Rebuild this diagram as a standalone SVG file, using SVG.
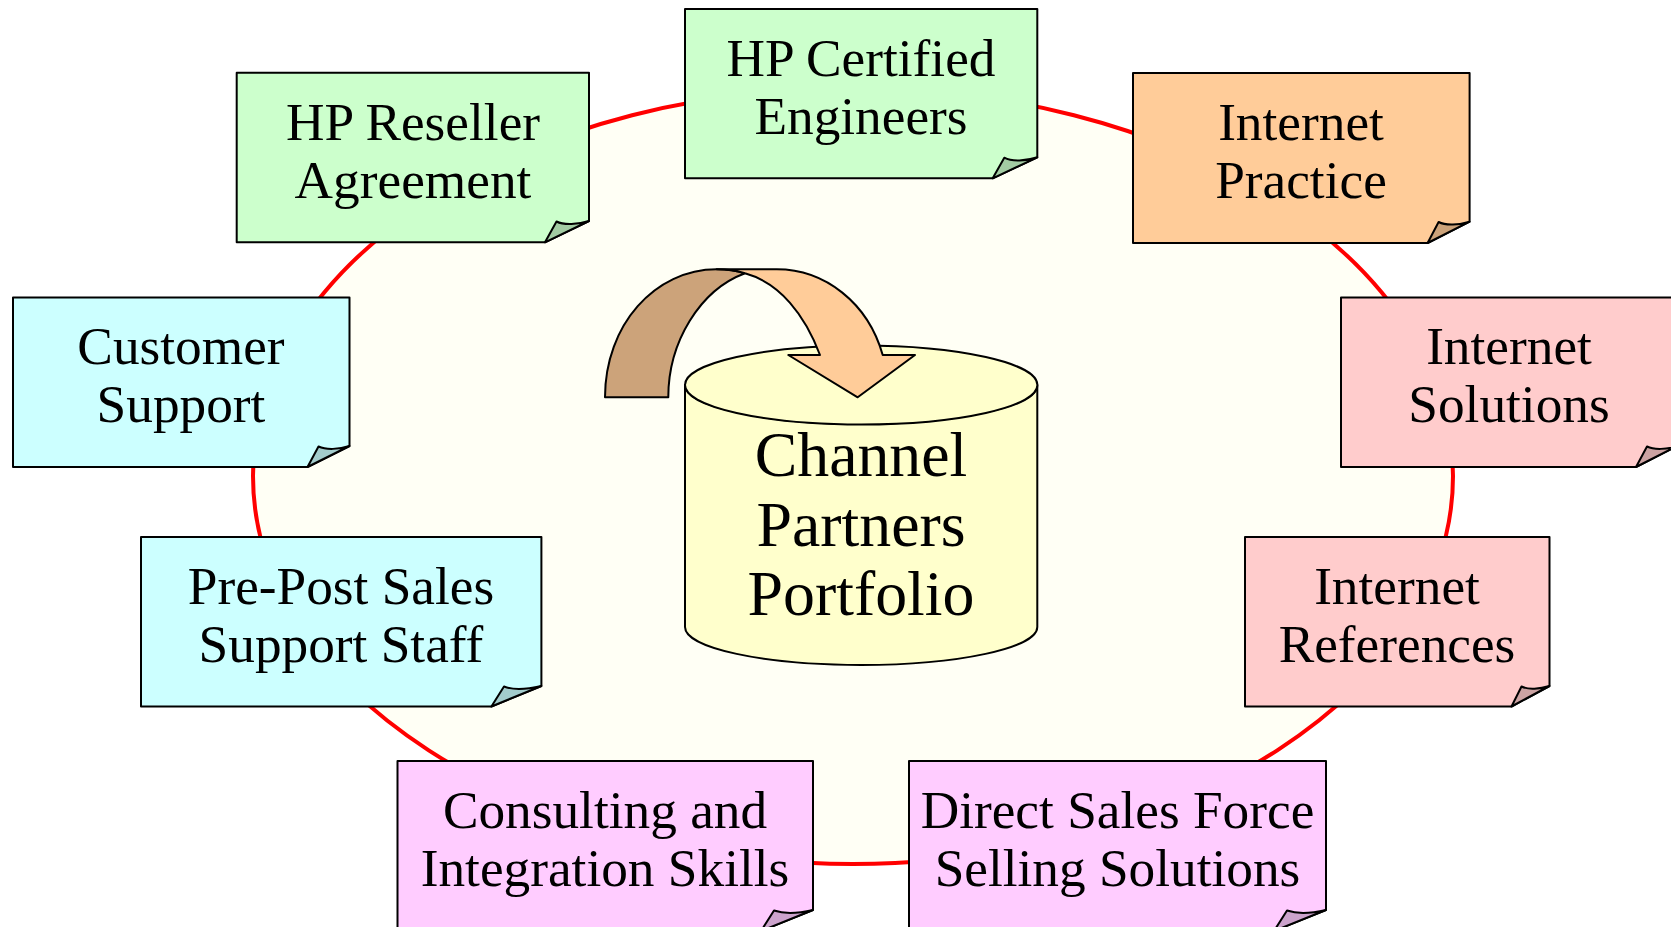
<svg xmlns="http://www.w3.org/2000/svg" width="1671" height="927" viewBox="0 0 1671 927">
<style>
text{font-family:"Liberation Serif","Times New Roman",serif;font-size:53.300px;fill:#000;text-anchor:middle}
.big{font-size:63.800px}
.o{stroke:#000;stroke-width:2;stroke-linejoin:round}
.g{fill:#CCFFCC}.gd{fill:#A3CCA3}
.c{fill:#CCFFFF}.cd{fill:#A3CCCC}
.y{fill:#FFCC99}.yd{fill:#CCA37A}
.p{fill:#FFCCCC}.pd{fill:#CCA3A3}
.m{fill:#FFCCFF}.md{fill:#CCA3CC}
</style>
<rect width="1671" height="927" fill="#fff"/>
<g id="connectors"><ellipse cx="853" cy="476" rx="600" ry="388" fill="#FFFFF5" stroke="#FF0000" stroke-width="4"/></g>
<g id="portfolio">
<path class="o" fill="#FFFFCC" d="M685 385V627C685 648 764 665 861 665S1037.300 648 1037.300 627V385C1037.300 406 958 424 861 424S685 406 685 385Z"/>
<ellipse class="o" fill="#FFFFCC" cx="861.200" cy="385" rx="176.200" ry="39.500"/>
<text class="big" x="861" y="476">Channel</text><text class="big" x="861" y="546">Partners</text><text class="big" x="861" y="615">Portfolio</text>
</g>
<g id="arrow">
<path class="o yd" d="M605 397.300C605 325 655 269.300 716.700 269.300C727 269.300 736 270.500 745 273.300C700 290 668.300 342 668.300 397.300Z"/>
<path class="o y" d="M716.700 269.300H776.700C825 269.300 868 303 882.700 355H915L857.700 397.300L788.300 355H820C805 315 780 283 745 273.300C736 270.500 727 269.300 716.700 269.300Z"/>
</g>
<g id="n1"><path class="o g" d="M685 9H1037.300V157.300L992.700 178.300H685Z"/><path class="o gd" d="M992.700 178.300L1004.300 157.700C1012 162 1026 161 1037.300 157.300Z"/><text x="861" y="76">HP Certified</text><text x="861" y="134">Engineers</text></g>
<g id="n2"><path class="o y" d="M1133 73H1469.600V221.700L1427.600 243H1133Z"/><path class="o yd" d="M1427.600 243L1438.600 222C1446 226 1459 225 1469.600 221.700Z"/><text x="1301" y="140">Internet</text><text x="1301" y="198">Practice</text></g>
<g id="n3"><path class="o p" d="M1341 297.500H1677V446L1636 467H1341Z"/><path class="o pd" d="M1636 467L1647 446.500C1654 450 1667 449.500 1677 446Z"/><text x="1509" y="364">Internet</text><text x="1509" y="422">Solutions</text></g>
<g id="n4"><path class="o p" d="M1245 537H1549.500V686L1511.500 706.500H1245Z"/><path class="o pd" d="M1511.500 706.500L1521.500 686.500C1528 690 1540 689 1549.500 686Z"/><text x="1397" y="604">Internet</text><text x="1397" y="662">References</text></g>
<g id="n5"><path class="o m" d="M909 761H1326V910L1274 931H909Z"/><path class="o md" d="M1274 931L1287 910.500C1297 914 1313 913 1326 910Z"/><text x="1117.500" y="828">Direct Sales Force</text><text x="1117.500" y="886">Selling Solutions</text></g>
<g id="n6"><path class="o m" d="M397.500 761H813V910L761 931H397.500Z"/><path class="o md" d="M761 931L774 910.500C784 914 800 913 813 910Z"/><text x="605" y="828">Consulting and</text><text x="605" y="886">Integration Skills</text></g>
<g id="n7"><path class="o c" d="M141 537H541.400V686L491.400 706.500H141Z"/><path class="o cd" d="M491.400 706.500L504 686.500C513 690 528 689 541.400 686Z"/><text x="341" y="604">Pre-Post Sales</text><text x="341" y="662">Support Staff</text></g>
<g id="n8"><path class="o c" d="M13 297.500H349.500V446L307.500 467H13Z"/><path class="o cd" d="M307.500 467L318.500 446.500C326 450 339 449.500 349.500 446Z"/><text x="181" y="364">Customer</text><text x="181" y="422">Support</text></g>
<g id="n9"><path class="o g" d="M236.700 72.700H589V221L545 242.300H236.700Z"/><path class="o gd" d="M545 242.300L556.500 221.500C564 225.500 578 224.500 589 221Z"/><text x="413" y="140">HP Reseller</text><text x="413" y="198">Agreement</text></g>
</svg>
